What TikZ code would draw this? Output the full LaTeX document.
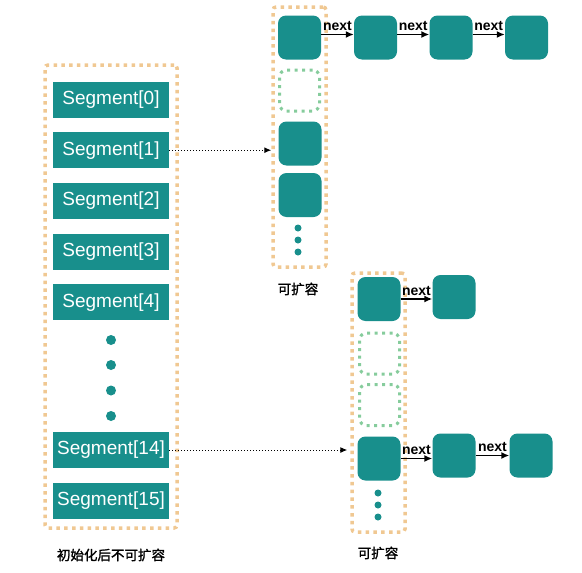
\documentclass[tikz,border=0pt]{standalone}
\usepackage{fontspec}
\usepackage{tikz}
\usetikzlibrary{arrows.meta}
\setmainfont{Liberation Sans}
\newfontfamily\cjk[FakeBold=1.6]{Noto Sans CJK SC}
\definecolor{segteal}{RGB}{24,143,140}
\definecolor{dotorange}{RGB}{240,200,146}
\definecolor{dotgreen}{RGB}{134,204,156}

\begin{document}
\begin{tikzpicture}[x=1pt,y=-1pt,
    seg/.style={fill=segteal,text=white,minimum width=116pt,minimum height=36pt,inner sep=0pt,font=\fontsize{19}{21}\selectfont},
    cell/.style={fill=segteal,rounded corners=8pt,minimum width=43pt,minimum height=44pt,inner sep=0pt},
    hole/.style={draw=dotgreen,line width=3pt,dash pattern=on 3pt off 4.5pt,rounded corners=7pt,minimum width=40pt,minimum height=41pt,inner sep=0pt},
    bucket/.style={draw=dotorange,line width=3.5pt,dash pattern=on 3.5pt off 4.3pt,rounded corners=3pt,inner sep=0pt},
    nxt/.style={-{Latex[length=8pt,width=7pt]},line width=1.5pt},
    ref/.style={-{Latex[length=7pt,width=6pt]},line width=1pt,dotted},
    lbl/.style={font=\bfseries\fontsize{14}{16}\selectfont,above,inner sep=3pt},
    caption/.style={font=\cjk\fontsize{13.5}{15}\selectfont},
    dot/.style={circle,fill=segteal,inner sep=0pt}]
    \useasboundingbox (0,0) rectangle (582,573);
    % segment table
    \node[bucket,minimum width=132pt,minimum height=463pt] (table) at (111,296.5) {};
    \node[seg] (s0) at (111,99.5) {Segment[0]};
	\node[seg] (s1) at (111,150.2) {Segment[1]};
	\node[seg] (s2) at (111,200.9) {Segment[2]};
	\node[seg] (s3) at (111,251.6) {Segment[3]};
	\node[seg] (s4) at (111,302.3) {Segment[4]};
	\node[dot,minimum size=10pt] (d1) at (111,340) {};
	\node[dot,minimum size=10pt] (d2) at (111,365) {};
	\node[dot,minimum size=10pt] (d3) at (111,390.5) {};
	\node[dot,minimum size=10pt] (d4) at (111,416) {};
	\node[seg] (s14) at (111,450) {Segment[14]};
	\node[seg] (s15) at (111,500.5) {Segment[15]};
	\node[caption] (tcap) at (111,555) {初始化后不可扩容};
    % upper HashEntry array
    \node[bucket,minimum width=53pt,minimum height=260pt] (up) at (299.5,137) {};
	\node[cell] (u0) at (299.5,37.5) {};
	\node[hole] (u1) at (299.5,90.5) {};
	\node[cell] (u2) at (300,143.5) {};
	\node[cell] (u3) at (300,195) {};
	\node[dot,minimum size=7pt] (ud1) at (298,228) {};
	\node[dot,minimum size=7pt] (ud2) at (298,240) {};
	\node[dot,minimum size=7pt] (ud3) at (298,252) {};
	\node[caption] (ucap) at (298,289) {可扩容};
	\node[cell] (ua) at (375.5,37.5) {};
	\node[cell] (ub) at (451,37.5) {};
	\node[cell] (uc) at (526.5,37.5) {};
    % lower HashEntry array
    \node[bucket,minimum width=53pt,minimum height=259pt] (low) at (378.5,402.5) {};
	\node[cell] (l0) at (379,299) {};
	\node[hole] (l1) at (379.5,353.5) {};
	\node[hole] (l2) at (379.5,405) {};
	\node[cell] (l3) at (379,458.5) {};
	\node[dot,minimum size=7pt] (ld1) at (378,493) {};
	\node[dot,minimum size=7pt] (ld2) at (378,505) {};
	\node[dot,minimum size=7pt] (ld3) at (378,517) {};
	\node[caption] (lcap) at (378,553) {可扩容};
	\node[cell] (la) at (454,297) {};
	\node[cell] (lb) at (454,455.5) {};
	\node[cell] (lc) at (531,455.5) {};
    % links
    \draw[nxt] ([yshift=3pt]u0.east) -- node[lbl] {next} ([yshift=3pt]ua.west);
    \draw[nxt] ([yshift=3pt]ua.east) -- node[lbl] {next} ([yshift=3pt]ub.west);
    \draw[nxt] ([yshift=3pt]ub.east) -- node[lbl] {next} ([yshift=3pt]uc.west);
    \draw[nxt] (l0.east) -- node[lbl] {next} (l0.east -| la.west);
    \draw[nxt] (l3.east) -- node[lbl] {next} (l3.east -| lb.west);
    \draw[nxt] (lb.east) -- node[lbl] {next} (lc.west);
    \draw[ref] (s1.east) -- (s1.east -| up.west);
    \draw[ref] (s14.east) -- ([xshift=-3pt]s14.east -| low.west);
\end{tikzpicture}
\end{document}
